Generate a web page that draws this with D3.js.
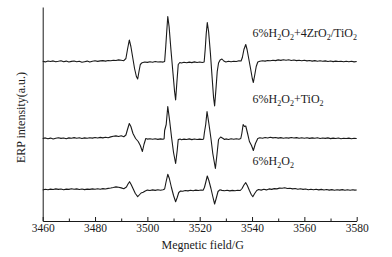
<!DOCTYPE html>
<html>
<head>
<meta charset="utf-8">
<script src="https://cdn.jsdelivr.net/npm/d3@7"></script>
<style>
  body { margin: 0; background: #fff; }
  svg { display: block; font-family: "Liberation Serif", "Times New Roman", serif; }
</style>
</head>
<body>
<div id="chart"></div>
<script>
// field range and ticks (G)
const fieldRange = [3460, 3580]
const majorTicks = [3460, 3480, 3500, 3520, 3540, 3560, 3580]
const minorTicks = [3470, 3490, 3510, 3530, 3550, 3570]

// series names, top to bottom
const seriesNames = ['6%H2O2+4ZrO2/TiO2', '6%H2O2+TiO2', '6%H2O2']
// vertical offset of each spectrum (a.u.)
const seriesOffsets = [159.5, 82.5, 31.5]

// [field, intensity]
const zrTiSpectrum = [
  [3460, 0.3], [3461, -0.4], [3462, 0.5], [3463, 0], [3464, 0.6], [3465, -0.3], [3466, 0.2], [3467, 0.8],
  [3468, -0.2], [3469, 0.4], [3470, -0.5], [3471, 0.1], [3472, 0.5], [3473, -0.3], [3474, 0.2], [3475, -0.8],
  [3476, -0.2], [3477, 0.4], [3478, -0.6], [3479, 0.3], [3480, 0.7], [3481, 0.1], [3482, 0.6], [3483, 0.9],
  [3484, 0.4], [3485, 1.0], [3486, 0.7], [3487, 1.3], [3488, 1.0], [3489, 1.6], [3490, 1.2], [3491, 0.8],
  [3491.8, 3], [3492.4, 12], [3493.1, 21.5], [3493.7, 15], [3494.4, 4], [3495.1, -7], [3495.8, -15],
  [3496.3, -17.5], [3496.8, -10], [3497.3, -3], [3498, -1.2], [3499, -0.5], [3500, -0.9], [3501, -0.3],
  [3502, -0.7], [3503, 0], [3504, -0.5], [3505, -0.2], [3506, -0.6], [3506.6, 0], [3507, 14], [3507.4, 30],
  [3507.8, 45], [3508.3, 35], [3509, 12], [3509.8, -12], [3510.4, -30], [3510.8, -38.5], [3511.3, -20],
  [3511.8, -3], [3512.4, -1], [3513, -1.5], [3514, -0.8], [3515, -1.2], [3516, -0.6], [3517, -1.1],
  [3518, -0.4], [3519, -1], [3520, -0.5], [3521, -1], [3521.7, -0.5], [3522.1, 12], [3522.5, 28],
  [3522.9, 39], [3523.4, 30], [3524.1, 8], [3524.8, -18], [3525.3, -36], [3525.7, -44.5], [3526.2, -28],
  [3526.7, -10], [3527.2, -1.5], [3527.8, 1.5], [3528.5, 2.5], [3529.2, 0.5], [3530, -0.5], [3531, 0.2],
  [3532, -0.3], [3533, 0.3], [3534, 0], [3535, 0.8], [3535.8, 0.5], [3536.3, 4], [3536.9, 12], [3537.6, 17],
  [3538.1, 12], [3538.8, 2], [3539.5, -8], [3540.1, -17], [3540.5, -21], [3541, -14], [3541.6, -5],
  [3542.2, -0.5], [3543, 0.3], [3544, 0.8], [3545, 0.4], [3546, 1], [3547, 0.7], [3548, 1.3], [3549, 0.9],
  [3550, 1.6], [3551, 1.1], [3552, 1.8], [3553, 1.3], [3554, 1.7], [3555, 1.0], [3556, 1.5], [3557, 0.9],
  [3558, 1.3], [3559, 0.7], [3560, 1.2], [3561, 0.6], [3562, 1.0], [3563, 0.4], [3564, 0.9], [3565, 0.3],
  [3566, 0.7], [3567, 0.2], [3568, 0.6], [3569, 0], [3570, 0.5], [3571, -0.1], [3572, 0.4], [3573, 0],
  [3574, 0.3], [3575, -0.2], [3576, 0.3], [3577, -0.3], [3578, 0.2], [3579, -0.4], [3580, 0]
]

const tiSpectrum = [
  [3460, 0], [3461, 0.6], [3462, -0.3], [3463, 0.4], [3464, -0.5], [3465, 0.3], [3466, 0.8], [3467, 0.1],
  [3468, 0.5], [3469, -0.2], [3470, 0.6], [3471, 0.2], [3472, 0.9], [3473, 0.3], [3474, 0.7], [3475, 0],
  [3476, 0.6], [3477, 0.2], [3478, 0.8], [3479, 0.4], [3480, 1.0], [3481, 0.5], [3482, 1.1], [3483, 0.6],
  [3484, 1.2], [3485, 0.8], [3486, 1.6], [3487, 2.2], [3488, 2.6], [3489, 2.0], [3490, 2.8], [3491, 1.8],
  [3491.8, 3.5], [3492.4, 9], [3493.1, 15], [3493.7, 12], [3494.5, 5], [3495.5, 0], [3496.5, -3],
  [3497.3, -7], [3498.1, -13], [3498.7, -6], [3499.4, 0], [3500, -0.6], [3501, -0.2], [3502, -0.8],
  [3503, -0.3], [3504, -0.9], [3505, -0.4], [3506, -0.8], [3506.4, -0.3], [3506.6, 8], [3507.2, 14],
  [3507.8, 32], [3508.5, 18], [3509.3, 0], [3510, -14], [3510.8, -25], [3511.4, -12], [3511.8, -1],
  [3512.5, -0.6], [3513, -1.2], [3514, -0.6], [3515, -1], [3516, -0.4], [3517, -1.1], [3518, -0.5],
  [3519, -1], [3520, -0.6], [3521, -1], [3521.5, -0.5], [3521.8, 6], [3522.3, 14], [3522.8, 27],
  [3523.5, 15], [3524.3, 0], [3525, -15], [3526, -30], [3526.6, -16], [3527.2, -1], [3528, 1.5],
  [3528.8, 0.3], [3529.5, -1], [3530, -0.4], [3531, -1], [3532, -0.3], [3533, -0.8], [3534, -0.2],
  [3535, -0.7], [3535.7, 0], [3536.1, 5], [3536.6, 14], [3537.1, 12], [3537.6, 12.5], [3538.3, 5],
  [3539, -3], [3539.8, -7], [3540.5, -12], [3541.3, -5], [3542.2, 0], [3543, 0.8], [3544, 0.3], [3545, 1],
  [3546, 0.5], [3547, 1.2], [3548, 0.6], [3549, 1], [3550, 0.4], [3551, 0.9], [3552, 0.3], [3553, 0.8],
  [3554, 0.4], [3555, 1.0], [3556, 0.5], [3557, 0.9], [3558, 0.2], [3559, 0.7], [3560, 0.3], [3561, 0.8],
  [3562, 0.1], [3563, 0.6], [3564, 0.2], [3565, 0.7], [3566, 0], [3567, 0.5], [3568, 0.1], [3569, 0.6],
  [3570, -0.1], [3571, 0.4], [3572, 0], [3573, 0.5], [3574, -0.2], [3575, 0.3], [3576, 0], [3577, 0.4],
  [3578, -0.3], [3579, 0.2], [3580, 0]
]

const h2o2Spectrum = [
  [3460, -0.5], [3461, 0.2], [3462, -0.3], [3463, 0.4], [3464, 0], [3465, 0.6], [3466, 0.1], [3467, 0.5],
  [3468, -0.2], [3469, 0.4], [3470, 0.1], [3471, 0.7], [3472, 0.2], [3473, 0.6], [3474, 0], [3475, 0.5],
  [3476, -0.1], [3477, 0.4], [3478, 0.1], [3479, 0.6], [3480, 0.2], [3481, 0.8], [3482, 0.3], [3483, 0.9],
  [3484, 0.5], [3485, 1.1], [3486, 1.5], [3487, 2.0], [3488, 2.6], [3489, 2.2], [3490, 1.6], [3491, 0.8],
  [3492, 2.5], [3492.6, 5.5], [3493.2, 7.8], [3493.8, 5], [3494.6, 0.5], [3495.4, -4], [3496.3, -7.2],
  [3496.9, -5.5], [3497.6, -3.5], [3498.4, -2.8], [3499.2, -1.5], [3500, -0.6], [3501, -1], [3502, -0.4],
  [3503, -0.9], [3504, -0.3], [3505, -0.8], [3506, -0.2], [3506.6, 0.5], [3507.1, 7], [3507.8, 15.2],
  [3508.4, 11], [3509.2, 2], [3510, -6], [3510.8, -12.2], [3511.4, -8], [3512, -3], [3512.7, -1.5],
  [3513.5, -1.8], [3514.5, -1], [3515.5, -1.4], [3516.5, -0.8], [3517.5, -1.2], [3518.5, -0.6],
  [3519.5, -1], [3520.5, -0.5], [3521.3, -0.7], [3521.8, 2], [3522.3, 7], [3522.9, 13.5], [3523.5, 9],
  [3524.3, 1], [3525, -7], [3525.7, -14.5], [3526.3, -9], [3527, -2], [3527.7, -0.3], [3528.5, -0.9],
  [3529.5, -1.3], [3530.5, -0.8], [3531.5, -1.4], [3532.5, -0.9], [3533.5, -1.3], [3534.5, -0.8],
  [3535.5, -1], [3536.2, 1], [3536.9, 4.5], [3537.6, 6.8], [3538.2, 4], [3539, -1], [3539.7, -5],
  [3540.3, -7.2], [3541, -4], [3541.8, -1], [3542.5, 0], [3543.5, -0.6], [3544.5, 0.2], [3545.5, -0.4],
  [3546.5, 0.6], [3547.5, 0.1], [3548.5, 0.9], [3549.5, 0.6], [3550.5, 1.4], [3551.5, 1.2], [3552.5, 1.8],
  [3553.5, 1.0], [3554.5, 1.3], [3555.5, 0.6], [3556.5, 1.0], [3557.5, 0.3], [3558.5, 0.7], [3559.5, 0.1],
  [3560.5, 0.5], [3561.5, -0.2], [3562.5, 0.3], [3563.5, -0.3], [3564.5, 0.2], [3565.5, -0.4],
  [3566.5, 0.1], [3567.5, -0.5], [3568.5, 0], [3569.5, -0.6], [3570.5, -0.1], [3571.5, -0.7],
  [3572.5, -0.2], [3573.5, -0.6], [3574.5, -0.1], [3575.5, -0.8], [3576.5, -0.3], [3577.5, -0.7],
  [3578.5, -0.2], [3579.3, -0.6], [3580, -0.5]
]

const spectra = [zrTiSpectrum, tiSpectrum, h2o2Spectrum]

// where each series label sits (field, a.u.)
const labelField = 3540.2
const labelLevels = [184, 118, 56]

var W = 392, H = 257
var margin = { top: 7, right: 35.3, bottom: 36, left: 42.7 }

var svg = d3.select('#chart').append('svg')
  .attr('width', W)
  .attr('height', H)

var x = d3.scaleLinear().domain(fieldRange).range([margin.left, W - margin.right])
var y = d3.scaleLinear().domain([0, 214]).range([H - margin.bottom, margin.top])

var ink = '#1a1a1a'

// spectra, each shifted up by its offset
spectra.forEach((s, i) => {
  svg.append('path')
    .datum(s)
    .attr('class', 'spectrum')
    .attr('fill', 'none')
    .attr('stroke', ink)
    .attr('stroke-width', 1.1)
    .attr('stroke-linejoin', 'round')
    .attr('d', d3.line().x(d => x(d[0])).y(d => y(d[1] + seriesOffsets[i])))
})

// bottom axis, ticks pointing inward
var xAxis = svg.append('g')
  .attr('transform', 'translate(0,' + y(0) + ')')
  .call(d3.axisBottom(x).tickValues(majorTicks).tickFormat(d3.format('d'))
    .tickSizeInner(-4).tickSizeOuter(0).tickPadding(2.5))
xAxis.select('.domain').attr('stroke', ink)
xAxis.selectAll('.tick line').attr('stroke', ink)
xAxis.selectAll('text')
  .attr('fill', ink)
  .style('font-size', '11.5px')
  .style('font-family', '"Liberation Serif", serif')

svg.append('g')
  .attr('transform', 'translate(0,' + y(0) + ')')
  .call(d3.axisBottom(x).tickValues(minorTicks).tickFormat('').tickSizeInner(-2.5).tickSizeOuter(0))
  .call(g => g.select('.domain').remove())
  .selectAll('.tick line').attr('stroke', ink)

// left axis, no ticks
var yAxis = svg.append('g')
  .attr('transform', 'translate(' + x(fieldRange[0]) + ',0)')
  .call(d3.axisLeft(y).tickValues([]).tickSizeOuter(0))
yAxis.select('.domain').attr('stroke', ink)

// axis titles
svg.append('text')
  .attr('x', (x(fieldRange[0]) + x(fieldRange[1])) / 2 + 3)
  .attr('y', 249)
  .attr('text-anchor', 'middle')
  .style('font-size', '12px')
  .attr('fill', ink)
  .text('Megnetic field/G')

svg.append('text')
  .attr('transform', 'translate(25,117.5) rotate(-90)')
  .attr('text-anchor', 'middle')
  .style('font-size', '12px')
  .attr('fill', ink)
  .text('ERP intensity(a.u.)')

// split a formula into runs; a digit right after a letter is a subscript
const formulaRuns = name => {
  var runs = []
  name.split('').forEach((c, k) => {
    var sub = /\d/.test(c) && k > 0 && /[A-Za-z]/.test(name[k - 1])
    var last = runs[runs.length - 1]
    if (last && last.sub === sub) last.text += c
    else runs.push({ text: c, sub: sub })
  })
  return runs
}

seriesNames.forEach((name, i) => {
  var t = svg.append('text')
    .attr('x', x(labelField))
    .attr('y', y(labelLevels[i]))
    .style('font-size', '12px')
    .attr('fill', ink)
  var prevSub = false
  formulaRuns(name).forEach(r => {
    var dy = 0
    if (r.sub && !prevSub) dy = 3
    if (!r.sub && prevSub) dy = -3
    t.append('tspan')
      .attr('dy', dy)
      .style('font-size', r.sub ? '8px' : '12px')
      .text(r.text)
    prevSub = r.sub
  })
})
</script>
</body>
</html>
